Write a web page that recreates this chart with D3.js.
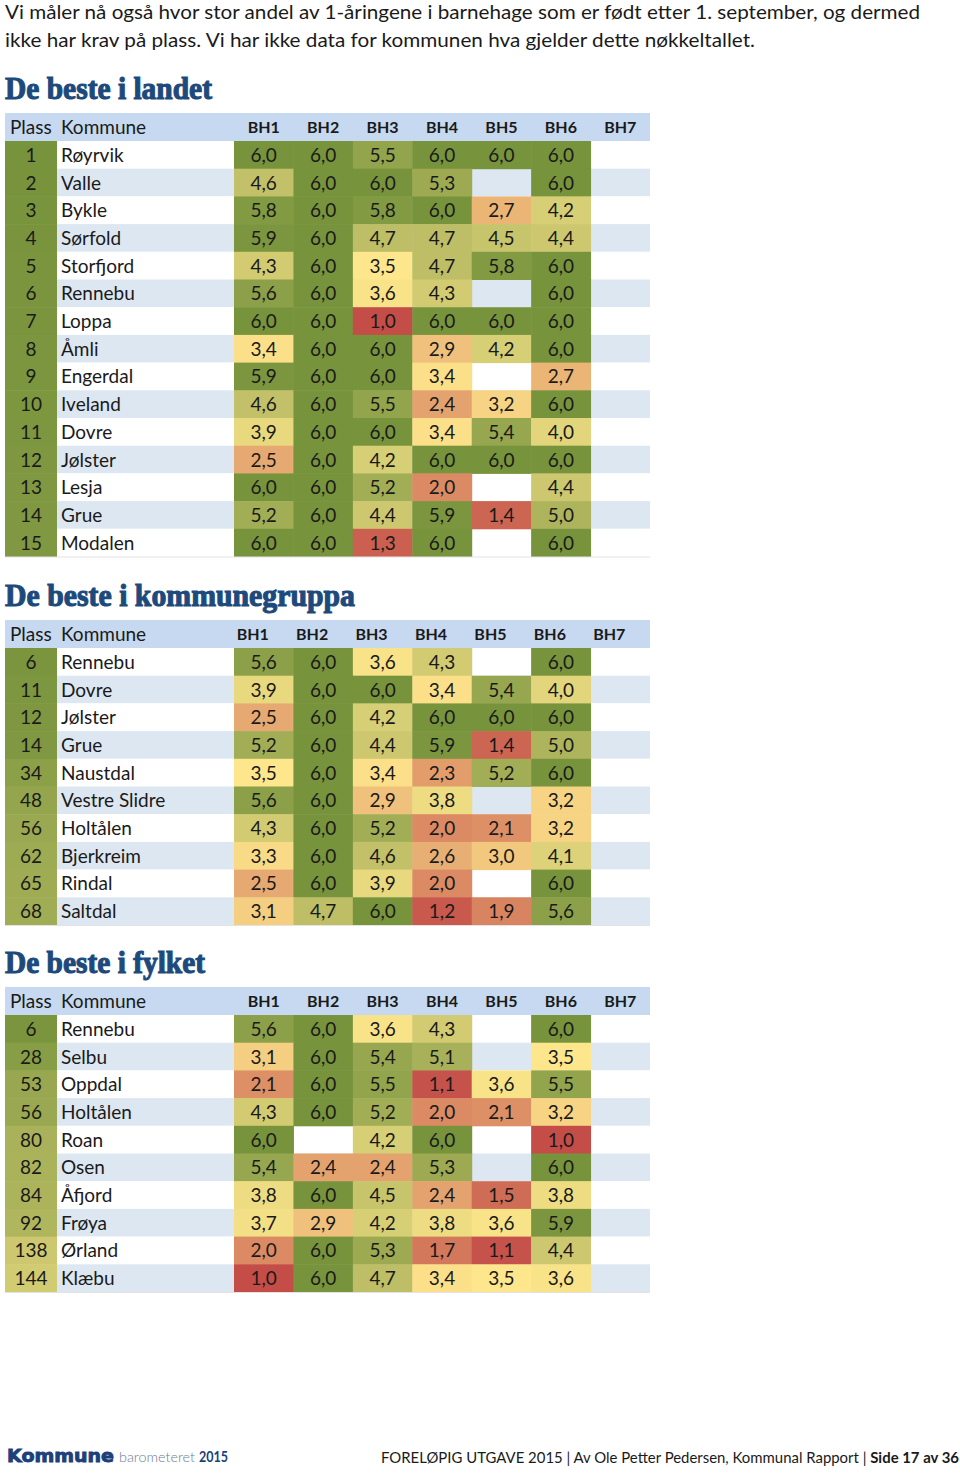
<!DOCTYPE html>
<html>
<head>
<meta charset="utf-8">
<script src="https://cdnjs.cloudflare.com/ajax/libs/d3/7.8.5/d3.min.js"></script>
<style>
  body { margin: 0; background: #fff; }
  svg { display: block; }
</style>
</head>
<body>
<svg width="960" height="1475"></svg>
<script>
// columns and intro
var columns = ['BH1', 'BH2', 'BH3', 'BH4', 'BH5', 'BH6', 'BH7'];
var introLines = [
    'Vi måler nå også hvor stor andel av 1-åringene i barnehage som er født etter 1. september, og dermed',
    'ikke har krav på plass. Vi har ikke data for kommunen hva gjelder dette nøkkeltallet.'
];
var titles = ['De beste i landet', 'De beste i kommunegruppa', 'De beste i fylket'];

// table 1: De beste i landet
var plass1 = [1, 2, 3, 4, 5, 6, 7, 8, 9, 10, 11, 12, 13, 14, 15];
var kommune1 = ['Røyrvik', 'Valle', 'Bykle', 'Sørfold', 'Storfjord', 'Rennebu', 'Loppa', 'Åmli',
    'Engerdal', 'Iveland', 'Dovre', 'Jølster', 'Lesja', 'Grue', 'Modalen'];
var verdier1 = [
    [6.0, 6.0, 5.5, 6.0, 6.0, 6.0, null],
    [4.6, 6.0, 6.0, 5.3, null, 6.0, null],
    [5.8, 6.0, 5.8, 6.0, 2.7, 4.2, null],
    [5.9, 6.0, 4.7, 4.7, 4.5, 4.4, null],
    [4.3, 6.0, 3.5, 4.7, 5.8, 6.0, null],
    [5.6, 6.0, 3.6, 4.3, null, 6.0, null],
    [6.0, 6.0, 1.0, 6.0, 6.0, 6.0, null],
    [3.4, 6.0, 6.0, 2.9, 4.2, 6.0, null],
    [5.9, 6.0, 6.0, 3.4, null, 2.7, null],
    [4.6, 6.0, 5.5, 2.4, 3.2, 6.0, null],
    [3.9, 6.0, 6.0, 3.4, 5.4, 4.0, null],
    [2.5, 6.0, 4.2, 6.0, 6.0, 6.0, null],
    [6.0, 6.0, 5.2, 2.0, null, 4.4, null],
    [5.2, 6.0, 4.4, 5.9, 1.4, 5.0, null],
    [6.0, 6.0, 1.3, 6.0, null, 6.0, null]
];

// table 2: De beste i kommunegruppa
var plass2 = [6, 11, 12, 14, 34, 48, 56, 62, 65, 68];
var kommune2 = ['Rennebu', 'Dovre', 'Jølster', 'Grue', 'Naustdal', 'Vestre Slidre', 'Holtålen',
    'Bjerkreim', 'Rindal', 'Saltdal'];
var verdier2 = [
    [5.6, 6.0, 3.6, 4.3, null, 6.0, null],
    [3.9, 6.0, 6.0, 3.4, 5.4, 4.0, null],
    [2.5, 6.0, 4.2, 6.0, 6.0, 6.0, null],
    [5.2, 6.0, 4.4, 5.9, 1.4, 5.0, null],
    [3.5, 6.0, 3.4, 2.3, 5.2, 6.0, null],
    [5.6, 6.0, 2.9, 3.8, null, 3.2, null],
    [4.3, 6.0, 5.2, 2.0, 2.1, 3.2, null],
    [3.3, 6.0, 4.6, 2.6, 3.0, 4.1, null],
    [2.5, 6.0, 3.9, 2.0, null, 6.0, null],
    [3.1, 4.7, 6.0, 1.2, 1.9, 5.6, null]
];

// table 3: De beste i fylket
var plass3 = [6, 28, 53, 56, 80, 82, 84, 92, 138, 144];
var kommune3 = ['Rennebu', 'Selbu', 'Oppdal', 'Holtålen', 'Roan', 'Osen', 'Åfjord', 'Frøya',
    'Ørland', 'Klæbu'];
var verdier3 = [
    [5.6, 6.0, 3.6, 4.3, null, 6.0, null],
    [3.1, 6.0, 5.4, 5.1, null, 3.5, null],
    [2.1, 6.0, 5.5, 1.1, 3.6, 5.5, null],
    [4.3, 6.0, 5.2, 2.0, 2.1, 3.2, null],
    [6.0, null, 4.2, 6.0, null, 1.0, null],
    [5.4, 2.4, 2.4, 5.3, null, 6.0, null],
    [3.8, 6.0, 4.5, 2.4, 1.5, 3.8, null],
    [3.7, 2.9, 4.2, 3.8, 3.6, 5.9, null],
    [2.0, 6.0, 5.3, 1.7, 1.1, 4.4, null],
    [1.0, 6.0, 4.7, 3.4, 3.5, 3.6, null]
];

var svg = d3.select('svg');
var FONT = 'Lato, "Open Sans", sans-serif';

var valueColor = d3.scaleLinear()
    .domain([1, 3.5, 6])
    .range(['#c44d48', '#fde68c', '#77933c'])
    .interpolate(d3.interpolateRgb);

var rankColor = d3.scaleLinear()
    .domain([1, 214])
    .range(['#77933c', '#fde68c'])
    .clamp(true);

var fmt = function (v) { return v.toFixed(1).replace('.', ','); };

// intro text
svg.selectAll('.intro')
    .data(introLines)
    .enter().append('text')
    .attr('class', 'intro')
    .attr('x', 5)
    .attr('y', function (d, i) { return 19 + i * 28; })
    .attr('textLength', function (d, i) { return i === 0 ? 915 : 750; })
    .attr('lengthAdjust', 'spacingAndGlyphs')
    .style('font-family', FONT)
    .style('font-size', '20px')
    .style('fill', '#1a1a1a')
    .text(function (d) { return d; });

var x = d3.scaleBand().domain(columns).range([234, 650]);
var rowH = 27.7, headH = 28;

function drawTable(cfg) {
    var g = svg.append('g');
    var n = cfg.plass.length;
    var top = cfg.top;
    var y = d3.scaleBand()
        .domain(d3.range(n))
        .range([top + headH, top + headH + n * rowH]);

    g.append('text')
        .attr('x', 5)
        .attr('y', top - 14)
        .attr('textLength', cfg.titleW)
        .attr('lengthAdjust', 'spacingAndGlyphs')
        .style('font-family', '"Liberation Serif", "DejaVu Serif", serif')
        .style('font-weight', 'bold')
        .style('font-size', '32px')
        .style('fill', '#1d4a7c')
        .style('stroke', '#1d4a7c')
        .style('stroke-width', '1.1px')
        .text(cfg.title);

    // header
    g.append('rect')
        .attr('x', 5).attr('y', top)
        .attr('width', 645).attr('height', headH)
        .attr('fill', '#c6d9f0');
    g.append('text').attr('x', 10).attr('y', top + headH / 2 + 7)
        .style('font-family', FONT).style('font-size', '19px').style('fill', '#1a1a1a')
        .text('Plass');
    g.append('text').attr('x', 61).attr('y', top + headH / 2 + 7)
        .style('font-family', FONT).style('font-size', '19px').style('fill', '#1a1a1a')
        .text('Kommune');
    g.selectAll('.colhead')
        .data(columns)
        .enter().append('text')
        .attr('x', function (d) { return x(d) + x.bandwidth() / 2 + cfg.headShift; })
        .attr('y', top + headH / 2 + 6)
        .attr('text-anchor', 'middle')
        .style('font-family', FONT).style('font-weight', 'bold')
        .style('font-size', '16px').style('fill', '#1a1a1a')
        .text(function (d) { return d; });

    // row stripes
    g.selectAll('.stripe')
        .data(d3.range(n))
        .enter().append('rect')
        .attr('x', 57).attr('y', function (i) { return y(i); })
        .attr('width', 593).attr('height', y.bandwidth())
        .attr('fill', function (i) { return i % 2 ? '#dde7f2' : '#ffffff'; });

    // plass column
    g.selectAll('.plass')
        .data(cfg.plass)
        .enter().append('rect')
        .attr('x', 5).attr('y', function (d, i) { return y(i); })
        .attr('width', 52).attr('height', y.bandwidth() + 0.5)
        .attr('fill', function (d) { return rankColor(d); });
    g.selectAll('.plassTxt')
        .data(cfg.plass)
        .enter().append('text')
        .attr('x', 31).attr('y', function (d, i) { return y(i) + rowH / 2 + 7; })
        .attr('text-anchor', 'middle')
        .style('font-family', FONT).style('font-size', '19px').style('fill', '#1a1a1a')
        .text(function (d) { return d; });

    g.selectAll('.navn')
        .data(cfg.kommune)
        .enter().append('text')
        .attr('x', 61).attr('y', function (d, i) { return y(i) + rowH / 2 + 7; })
        .style('font-family', FONT).style('font-size', '19px').style('fill', '#1a1a1a')
        .text(function (d) { return d; });

    // value cells
    var cells = [];
    cfg.verdier.forEach(function (row, i) {
        row.forEach(function (v, j) {
            if (v !== null) cells.push({ row: i, col: columns[j], v: v });
        });
    });
    g.selectAll('.cell')
        .data(cells)
        .enter().append('rect')
        .attr('x', function (d) { return x(d.col); })
        .attr('y', function (d) { return y(d.row); })
        .attr('width', x.bandwidth() + 0.5)
        .attr('height', y.bandwidth() + 0.5)
        .attr('fill', function (d) { return valueColor(d.v); });
    g.selectAll('.cellTxt')
        .data(cells)
        .enter().append('text')
        .attr('x', function (d) { return x(d.col) + x.bandwidth() / 2; })
        .attr('y', function (d) { return y(d.row) + rowH / 2 + 7; })
        .attr('text-anchor', 'middle')
        .style('font-family', FONT).style('font-size', '19px').style('fill', '#1a1a1a')
        .text(function (d) { return fmt(d.v); });

    g.append('line')
        .attr('x1', 5).attr('x2', 650)
        .attr('y1', top + headH + n * rowH + 0.5).attr('y2', top + headH + n * rowH + 0.5)
        .attr('stroke', '#e3e3e3');
}

drawTable({ title: titles[0], titleW: 207, top: 113, headShift: 0,
    plass: plass1, kommune: kommune1, verdier: verdier1 });
drawTable({ title: titles[1], titleW: 350, top: 620, headShift: -11,
    plass: plass2, kommune: kommune2, verdier: verdier2 });
drawTable({ title: titles[2], titleW: 200, top: 987, headShift: 0,
    plass: plass3, kommune: kommune3, verdier: verdier3 });

// footer logo
svg.append('text')
    .attr('x', 7).attr('y', 1462)
    .attr('textLength', 107).attr('lengthAdjust', 'spacingAndGlyphs')
    .style('font-family', '"DejaVu Sans", sans-serif').style('font-weight', 'bold')
    .style('font-size', '18px').style('fill', '#1d3f7a')
    .style('stroke', '#1d3f7a').style('stroke-width', '0.9px')
    .text('Kommune');
svg.append('text')
    .attr('x', 119).attr('y', 1462)
    .attr('textLength', 76).attr('lengthAdjust', 'spacingAndGlyphs')
    .style('font-family', FONT).style('font-weight', '300')
    .style('font-size', '14px').style('fill', '#6b7c99')
    .text('barometeret');
svg.append('text')
    .attr('x', 199).attr('y', 1462)
    .attr('textLength', 29).attr('lengthAdjust', 'spacingAndGlyphs')
    .style('font-family', FONT).style('font-weight', 'bold')
    .style('font-size', '15px').style('fill', '#1d3f7a')
    .text('2015');

var foot = svg.append('text')
    .attr('x', 381).attr('y', 1463)
    .attr('textLength', 578).attr('lengthAdjust', 'spacingAndGlyphs')
    .style('font-family', FONT).style('font-size', '15px').style('fill', '#1a1a1a');
foot.append('tspan').text('FORELØPIG UTGAVE 2015 | Av Ole Petter Pedersen, Kommunal Rapport | ');
foot.append('tspan').style('font-weight', 'bold').text('Side 17 av 36');
</script>
</body>
</html>
